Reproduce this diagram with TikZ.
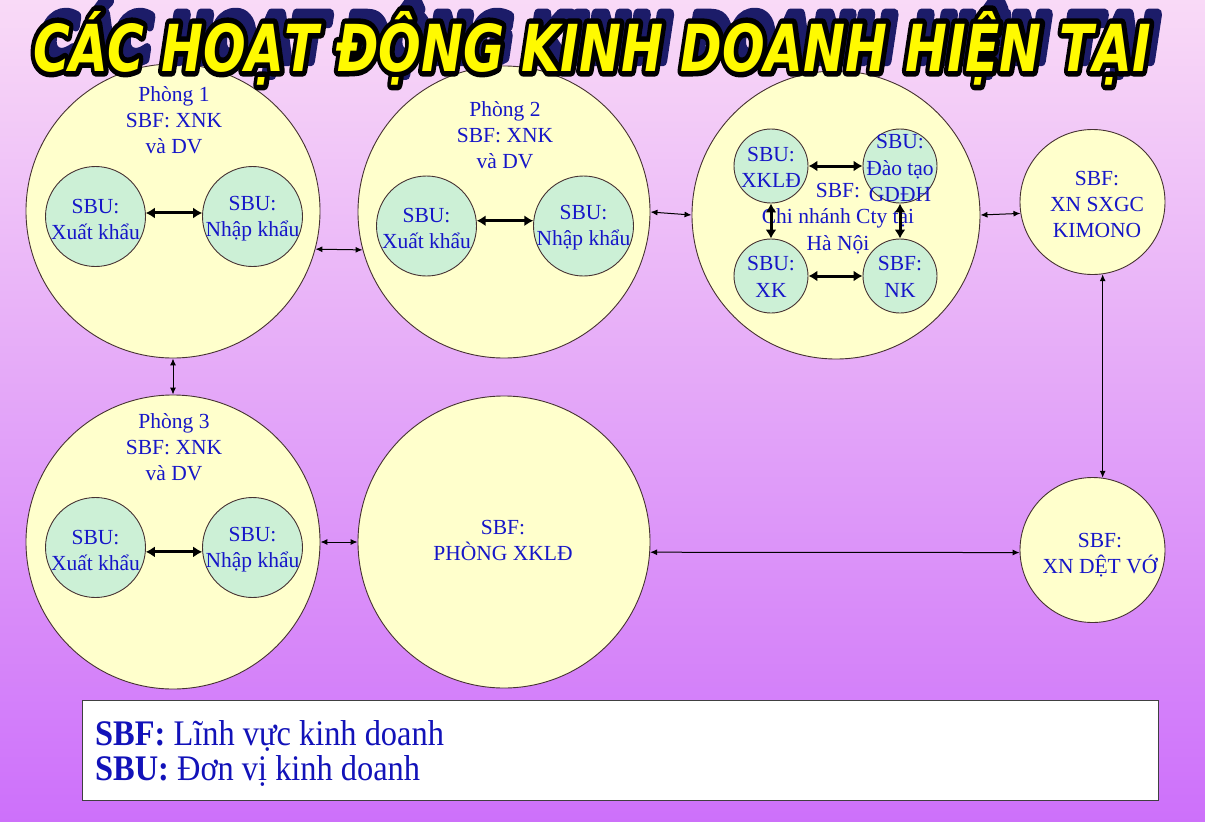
\documentclass[tikz,border=0pt]{standalone}
\usepackage{fontspec}
\usepackage{graphicx}
\setmainfont{Liberation Serif}
\newfontfamily\titlefont{DejaVu Sans}
\newfontfamily\legendfont[FakeStretch=0.9]{Liberation Serif}
\usetikzlibrary{arrows.meta,calc}
\definecolor{bgtop}{RGB}{249,218,247}
\definecolor{bgmid}{RGB}{232,180,250}
\definecolor{bgbot}{RGB}{205,112,250}
\definecolor{cyellow}{RGB}{255,255,204}
\definecolor{cgreen}{RGB}{204,240,214}
\definecolor{txtblue}{RGB}{22,22,200}
\definecolor{legblue}{RGB}{18,18,185}
\definecolor{edgecol}{RGB}{70,50,50}
\definecolor{shadowblue}{RGB}{28,28,105}
\definecolor{titleyellow}{RGB}{255,250,0}
\newcommand\ttltext{\titlefont\bfseries\itshape CÁC HOẠT ĐỘNG KINH DOANH HIỆN TẠI}
\newcommand\ttlplain{\resizebox{1118pt}{60pt}{\ttltext}}
\newcommand\ttlstroke[2]{\resizebox{1118pt}{60pt}{\special{pdf:literal direct 2 Tr #1 w 1 j 1 J #2}\ttltext\special{pdf:literal direct 0 Tr}}}
\begin{document}
\begin{tikzpicture}[x=1pt,y=-1pt,
 big/.style={circle,draw=edgecol,line width=0.9pt,fill=cyellow,inner sep=0pt,minimum size=#1},
 small/.style={circle,draw=edgecol,line width=0.9pt,fill=cgreen,inner sep=0pt,minimum size=#1},
 lbl/.style={text=txtblue,font=\fontsize{21.5}{26}\selectfont,align=center,inner sep=0pt},
 lblc/.style={text=txtblue,font=\fontsize{21.5}{26.5}\selectfont,align=center,inner sep=0pt},
 thinarrow/.style={{Latex[length=7pt,width=6pt]}-{Latex[length=7pt,width=6pt]},line width=1pt,black},
 thickarrow/.style={{Latex[length=9pt,width=11pt]}-{Latex[length=9pt,width=11pt]},line width=3pt,black},
 ttl/.style={anchor=base west,inner sep=0pt,outer sep=0pt}
]
% background
\shade[top color=bgtop, middle color=bgmid, bottom color=bgbot] (0,0) rectangle (1205,822);
\useasboundingbox (0,0) rectangle (1205,822);

% ---- Phong 1
\node[big=294pt] (c1) at (173,211) {};
\node[lbl] (c1t) at (174,120) {Phòng 1\\SBF: XNK\\và DV};
\node[small=100pt] (a1) at (95.5,216.5) {};
\node[small=100pt] (b1) at (252.5,216.5) {};
\node[lbl] (a1t) at (95.5,219) {SBU:\\Xuất khẩu};
\node[lbl] (b1t) at (252.5,219) {SBU:\\Nhập khẩu};
\draw[thickarrow] (a1.4) -- (b1.176);

% ---- Phong 2
\node[big=292pt] (c2) at (504,212) {};
\node[lbl] (c2t) at (505,135) {Phòng 2\\SBF: XNK\\và DV};
\node[small=100pt] (a2) at (426.5,226) {};
\node[small=100pt] (b2) at (583.5,226) {};
\node[lbl] (a2t) at (426.5,228) {SBU:\\Xuất khẩu};
\node[lbl] (b2t) at (583.5,228) {SBU:\\Nhập khẩu};
\draw[thickarrow] (a2.6) -- (b2.174);

% ---- Chi nhanh Ha Noi
\node[big=288pt] (c3) at (836,215) {};
\node[lblc] (c3t) at (838,218.5) {SBF:\\Chi nhánh Cty tại\\Hà Nội};
\node[small=74pt] (p) at (771,166) {};
\node[small=74pt] (q) at (900,166) {};
\node[small=74pt] (r) at (771,276) {};
\node[small=74pt] (s) at (900,276) {};
\node[lblc] (pt) at (771,167.5) {SBU:\\XKLĐ};
\node[lblc] (qt) at (900,168) {SBU:\\Đào tạo\\GDĐH};
\node[lblc] (rt) at (771,277) {SBU:\\XK};
\node[lblc] (st) at (900,277) {SBF:\\NK};
\draw[thickarrow] (p.east) -- (q.west);
\draw[thickarrow] (r.east) -- (s.west);
\draw[thickarrow] (p.south) -- (r.north);
\draw[thickarrow] (q.south) -- (s.north);

% ---- KIMONO
\node[big=145pt] (kim) at (1092.5,202) {};
\node[lbl] (kimt) at (1097,204) {SBF:\\XN SXGC\\KIMONO};

% ---- Phong 3
\node[big=294pt] (p3) at (173,542) {};
\node[lbl] (p3t) at (174,447) {Phòng 3\\SBF: XNK\\và DV};
\node[small=100pt] (a3) at (95.5,547.5) {};
\node[small=100pt] (b3) at (252.5,547.5) {};
\node[lbl] (a3t) at (95.5,550) {SBU:\\Xuất khẩu};
\node[lbl] (b3t) at (252.5,550) {SBU:\\Nhập khẩu};
\draw[thickarrow] (a3.-5) -- (b3.185);

% ---- Phong XKLD
\node[big=292pt] (xk) at (504,542) {};
\node[lbl] (xkt) at (503,540) {SBF:\\PHÒNG XKLĐ};

% ---- XN DET VO
\node[big=145pt] (det) at (1092.5,550) {};
\node[lbl] (dett) at (1100,555) {SBF:\\XN DỆT VỚ};

% ---- connectors
\draw[thinarrow] (c1.-15) -- (c2.195);
\draw[thinarrow] (c2.east) -- (c3.west);
\draw[thinarrow] (c3.east) -- (kim.189);
\draw[thinarrow] (c1.south) -- (p3.north);
\draw[thinarrow] (p3.east) -- (xk.west);
\draw[thinarrow] (xk.-4) -- (det.182);
\draw[thinarrow] (kim.-82) -- (det.82);

% ---- legend
\node[draw=black!75,line width=1pt,fill=white,minimum width=1076pt,minimum height=100pt,anchor=north west,inner sep=0pt] (legend) at (82,700) {};
\node[anchor=base west,inner sep=0pt,text=legblue,align=left,font=\legendfont\fontsize{36}{35}\selectfont] (legt) at (95,780) {{\bfseries SBF:} Lĩnh vực kinh doanh\\{\bfseries SBU:} Đơn vị kinh doanh};

% ---- title: shadow, outline, fill
\node[ttl,text=shadowblue] (tshadow) at (41,61) {\ttlstroke{1.6}{0.11 0.11 0.41 RG}};
\node[ttl,text=black] (toutline) at (33,71) {\ttlstroke{1.7}{0 0 0 RG}};
\node[ttl,text=titleyellow] (title) at (33,71) {\ttlplain};
\end{tikzpicture}
\end{document}
